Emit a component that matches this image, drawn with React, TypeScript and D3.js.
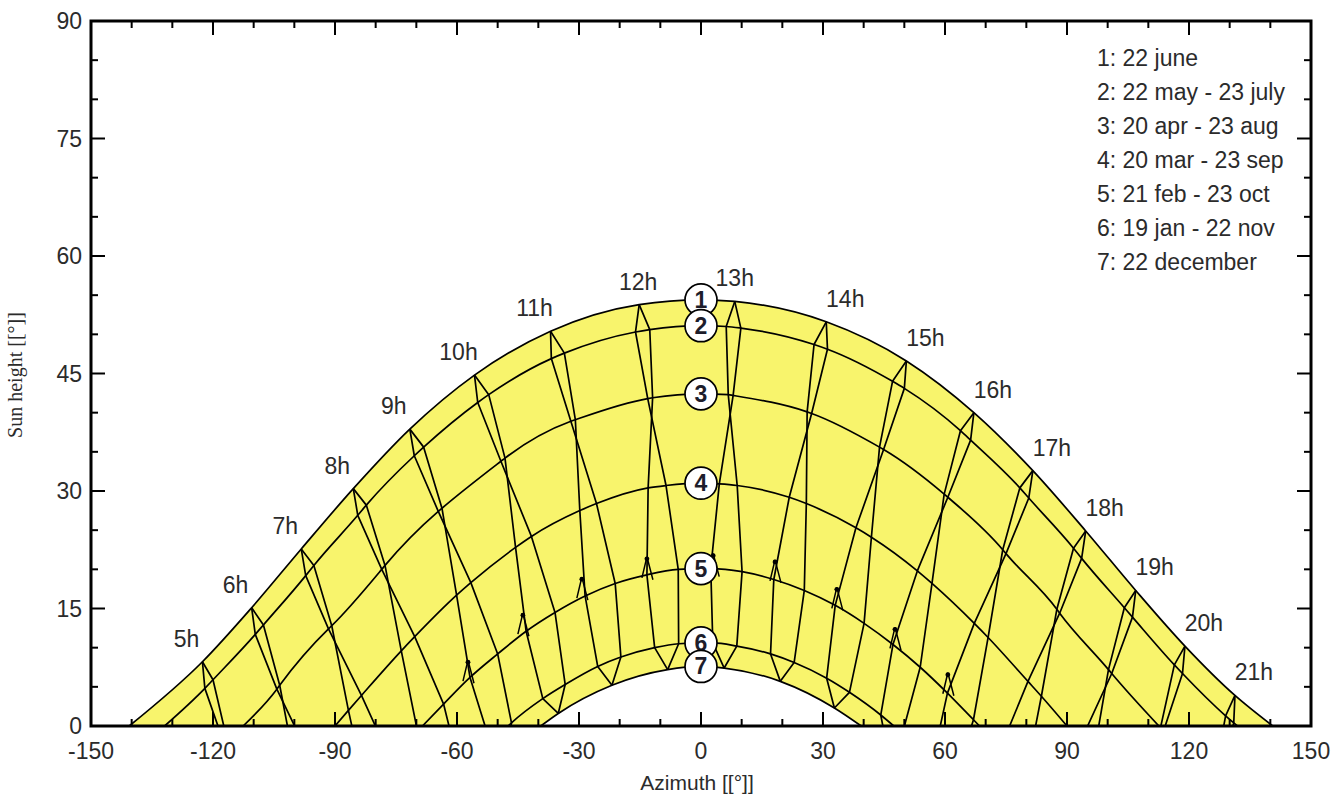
import React from 'react';
import * as d3 from 'd3';

// crossings of the hour lines with the date curves: [hour, azimuth °, sun height °]
// "a" = first half of the year (dec -> jun), "b" = second half (jun -> dec)
const hours = [5, 6, 7, 8, 9, 10, 11, 12, 13, 14, 15, 16, 17, 18, 19, 20, 21];

const day1 = [
  [5, -122.6, 8.2], [6, -110.5, 15.1], [7, -98.3, 22.6], [8, -85.5, 30.3], [9, -71.6, 37.9],
  [10, -55.7, 44.8], [11, -37.0, 50.4], [12, -15.2, 53.8], [13, 8.3, 54.2], [14, 30.8, 51.6],
  [15, 50.5, 46.6], [16, 67.1, 40.0], [17, 81.6, 32.6], [18, 94.6, 24.9], [19, 106.9, 17.3],
  [20, 119.0, 10.2], [21, 131.3, 3.9],
];
const day2a = [
  [5, -120.0, 5.9], [6, -107.6, 12.9], [7, -95.2, 20.5], [8, -82.3, 28.2], [9, -68.2, 35.6],
  [10, -52.2, 42.3], [11, -33.6, 47.6], [12, -12.6, 50.6], [13, 9.8, 50.8], [14, 31.1, 48.1],
  [15, 50.0, 43.1], [16, 66.3, 36.5], [17, 80.6, 29.1], [18, 93.6, 21.4], [19, 106.1, 13.9],
  [20, 118.4, 6.7], [21, 131.0, 0.4],
];
const day2b = [
  [5, -122.0, 4.8], [6, -109.6, 11.7], [7, -97.2, 19.2], [8, -84.4, 26.9], [9, -70.5, 34.5],
  [10, -54.9, 41.3], [11, -36.8, 46.9], [12, -16.1, 50.3], [13, 6.2, 51.0], [14, 27.8, 48.7],
  [15, 47.1, 44.0], [16, 63.8, 37.7], [17, 78.4, 30.4], [18, 91.6, 22.7], [19, 104.1, 15.1],
  [20, 116.4, 7.8], [21, 129.0, 1.3],
];
const day3a = [
  [5, -116.4, -2.1], [6, -103.6, 5.2], [7, -90.8, 12.8], [8, -77.7, 20.5], [9, -63.7, 27.8],
  [10, -48.2, 34.2], [11, -30.9, 39.1], [12, -11.9, 41.9], [13, 7.9, 42.2], [14, 27.2, 39.9],
  [15, 44.9, 35.3], [16, 60.7, 29.2], [17, 75.0, 22.0], [18, 88.2, 14.4], [19, 101.0, 6.7],
  [20, 113.7, -0.7], [21, 126.9, -7.3],
];
const day3b = [
  [5, -117.1, -2.5], [6, -104.3, 4.7], [7, -91.6, 12.4], [8, -78.5, 20.0], [9, -64.6, 27.4],
  [10, -49.2, 33.8], [11, -32.0, 38.9], [12, -13.1, 41.8], [13, 6.7, 42.3], [14, 26.1, 40.1],
  [15, 43.9, 35.6], [16, 59.8, 29.6], [17, 74.2, 22.5], [18, 87.5, 14.9], [19, 100.2, 7.2],
  [20, 113.0, -0.2], [21, 126.1, -6.9],
];
const day4a = [
  [6, -99.6, -5.7], [7, -86.7, 2.0], [8, -73.7, 9.6], [9, -60.1, 16.7], [10, -45.6, 22.8],
  [11, -29.8, 27.5], [12, -13.0, 30.4], [13, 4.5, 30.9], [14, 21.7, 29.2], [15, 38.1, 25.3],
  [16, 53.2, 19.8], [17, 67.2, 13.1], [18, 80.4, 5.7], [19, 93.3, -2.0],
];
const day4b = [
  [6, -96.4, -3.8], [7, -83.5, 3.9], [8, -70.4, 11.4], [9, -56.6, 18.3], [10, -41.7, 24.2],
  [11, -25.7, 28.4], [12, -8.6, 30.7], [13, 8.9, 30.7], [14, 25.9, 28.4], [15, 41.9, 24.1],
  [16, 56.8, 18.2], [17, 70.6, 11.3], [18, 83.7, 3.8], [19, 96.5, -3.9],
];
const day5a = [
  [7, -82.4, -8.2], [8, -69.7, -0.7], [9, -56.8, 6.2], [10, -43.0, 12.1], [11, -28.5, 16.6],
  [12, -13.3, 19.3], [13, 2.4, 20.1], [14, 17.9, 18.7], [15, 33.0, 15.4], [16, 47.2, 10.4],
  [17, 60.6, 4.2], [18, 73.6, -2.9],
];
const day5b = [
  [7, -76.2, -4.4], [8, -63.3, 2.8], [9, -50.0, 9.2], [10, -35.9, 14.5], [11, -21.1, 18.2],
  [12, -5.6, 20.0], [13, 10.1, 19.7], [14, 25.4, 17.3], [15, 40.1, 13.1], [16, 53.9, 7.5],
  [17, 67.0, 0.8], [18, 79.8, -6.6],
];
const day6a = [
  [8, -64.4, -8.6], [9, -51.9, -2.0], [10, -38.9, 3.5], [11, -25.4, 7.6], [12, -11.4, 10.0],
  [13, 2.9, 10.6], [14, 17.1, 9.2], [15, 30.9, 6.1], [16, 44.2, 1.4], [17, 56.9, -4.6],
];
const day6b = [
  [8, -59.2, -5.8], [9, -46.6, 0.4], [10, -33.4, 5.3], [11, -19.7, 8.8], [12, -5.5, 10.5],
  [13, 8.8, 10.2], [14, 22.9, 8.1], [15, 36.5, 4.3], [16, 49.5, -1.0], [17, 62.1, -7.3],
];
const day7 = [
  [9, -47.9, -3.6], [10, -35.1, 1.6], [11, -21.9, 5.2], [12, -8.2, 7.2], [13, 5.7, 7.4],
  [14, 19.5, 5.7], [15, 32.8, 2.3], [16, 45.7, -2.6],
];

// sunrise azimuth and noon height for curves 1..7
const riseAz = [140.6, 131.9, 112.6, 90.0, 68.5, 47.4, 39.4];
const noonAlt = [54.4, 51.1, 42.4, 31.0, 20.1, 10.6, 7.6];

const legendItems = [
  '1: 22 june',
  '2: 22 may - 23 july',
  '3: 20 apr - 23 aug',
  '4: 20 mar - 23 sep',
  '5: 21 feb - 23 oct',
  '6: 19 jan - 22 nov',
  '7: 22 december',
];

// small loops on the hour lines (tip position)
const loopTips = [
  [9, -57.3, 8.4], [10, -43.8, 14.4], [11, -29.3, 19.0], [12, -13.3, 21.6], [13, 3.0, 22.0],
  [14, 18.2, 21.2], [15, 33.4, 17.7], [16, 47.7, 12.6], [17, 60.7, 6.8],
];

const xTickLabels = [-150, -120, -90, -60, -30, 0, 30, 60, 90, 120, 150];
const yTickLabels = [0, 15, 30, 45, 60, 75, 90];

const FONT = '"Liberation Sans", Arial, sans-serif';
const TEXT = '#2b2b2b';

export default function App() {
  const x = d3.scaleLinear().domain([-150, 150]).range([91, 1311]);
  const y = d3.scaleLinear().domain([0, 90]).range([726, 21]);

  const days = [[day1], [day2a, day2b], [day3a, day3b], [day4a, day4b], [day5a, day5b], [day6a, day6b], [day7]];

  const dayCurves = days.map((group, i) => {
    const pts: number[][] = [];
    group.forEach((arr) => arr.forEach((p) => { if (p[2] > 0) pts.push([p[1], p[2]]); }));
    pts.push([-riseAz[i], 0], [0, noonAlt[i]], [riseAz[i], 0]);
    return pts.sort((a, b) => a[0] - b[0]);
  });

  const dayLine = d3.line<number[]>().x((d) => x(d[0])).y((d) => y(d[1])).curve(d3.curveMonotoneX);
  const dayArea = d3.area<number[]>().x((d) => x(d[0])).y0(y(0)).y1((d) => y(d[1])).curve(d3.curveMonotoneX);
  const hourLine = d3.line<number[]>().x((d) => x(d[0])).y((d) => y(d[1]));

  const branches: { h: number; pts: number[][] }[] = [];
  hours.forEach((h) => {
    [0, 1].forEach((b) => {
      const pts: number[][] = [];
      for (const group of days) {
        const p = group[Math.min(b, group.length - 1)].find((q) => q[0] === h);
        if (!p) break;
        pts.push([p[1], p[2]]);
        if (p[2] < 0) break;
      }
      branches.push({ h, pts });
    });
  });

  const xTicks = d3.range(-150, 151, 10);
  const yTicks = d3.range(0, 91, 5);

  return (
    <svg width={1344} height={798} style={{ position: 'absolute', left: 0, top: 0, background: '#fff' }}>
      <defs>
        <clipPath id="plot">
          <rect x={91} y={21} width={1220} height={705} />
        </clipPath>
      </defs>

      <g clipPath="url(#plot)">
        <path d={dayArea(dayCurves[0]) || ''} fill="#f8f46c" />
        <path d={dayArea(dayCurves[6]) || ''} fill="#fff" />
        {dayCurves.map((pts, i) => (
          <path key={i} d={dayLine(pts) || ''} fill="none" stroke="#000" strokeWidth={1.7} />
        ))}
        {branches.map((br, i) => (
          <path key={i} d={hourLine(br.pts) || ''} fill="none" stroke="#000" strokeWidth={1.7} strokeLinejoin="round" />
        ))}
        {loopTips.map((t, i) => {
          const tx = x(t[1]);
          const ty = y(t[2]);
          return (
            <g key={i}>
              <path d={`M${tx - 5},${ty + 21}L${tx},${ty}L${tx + 6},${ty + 23}`} fill="none" stroke="#000" strokeWidth={1.5} />
              <circle cx={tx} cy={ty + 2} r={2.4} fill="#000" />
            </g>
          );
        })}
      </g>

      {noonAlt.map((a, i) => (
        <g key={i}>
          <circle cx={x(0)} cy={y(a)} r={16} fill="#fff" stroke="#000" strokeWidth={1.7} />
          <text x={x(0)} y={y(a) + 8} textAnchor="middle" fontFamily={FONT} fontWeight="bold" fontSize={23} fill="#1d1d2b">
            {i + 1}
          </text>
        </g>
      ))}

      {day1.map((p) => {
        const h = p[0];
        const dx = h <= 11 ? -16 : h === 12 ? -1 : h === 13 ? 0 : 19;
        return (
          <text key={h} x={x(p[1]) + dx} y={y(p[2]) - 15} textAnchor="middle" fontFamily={FONT} fontSize={23} fill={TEXT}>
            {`${h}h`}
          </text>
        );
      })}

      {/* frame and ticks */}
      <rect x={91} y={21} width={1220} height={705} fill="none" stroke="#000" strokeWidth={3} />
      {xTicks.map((t) => {
        const len = t % 30 === 0 ? 14 : 7;
        return (
          <g key={t} stroke="#000" strokeWidth={2}>
            <line x1={x(t)} x2={x(t)} y1={726} y2={726 - len} />
            <line x1={x(t)} x2={x(t)} y1={21} y2={21 + len} />
          </g>
        );
      })}
      {yTicks.map((t) => {
        const len = t % 15 === 0 ? 14 : 7;
        return (
          <g key={t} stroke="#000" strokeWidth={2}>
            <line x1={91} x2={91 + len} y1={y(t)} y2={y(t)} />
            <line x1={1311} x2={1311 - len} y1={y(t)} y2={y(t)} />
          </g>
        );
      })}
      {xTickLabels.map((t) => (
        <text key={t} x={x(t)} y={759} textAnchor="middle" fontFamily={FONT} fontSize={23} fill={TEXT}>
          {t}
        </text>
      ))}
      {yTickLabels.map((t) => (
        <text key={t} x={82} y={y(t) + 8} textAnchor="end" fontFamily={FONT} fontSize={23} fill={TEXT}>
          {t}
        </text>
      ))}

      <text x={697} y={790} textAnchor="middle" fontFamily={FONT} fontSize={21} fill={TEXT}>
        Azimuth [[°]]
      </text>
      <text
        transform="translate(22,375) rotate(-90)"
        textAnchor="middle"
        fontFamily='"Liberation Serif", "Times New Roman", serif'
        fontSize={20}
        fill={TEXT}
      >
        Sun height [[°]]
      </text>

      {legendItems.map((s, i) => (
        <text key={i} x={1097} y={66 + i * 34} fontFamily={FONT} fontSize={23} fill={TEXT}>
          {s}
        </text>
      ))}
    </svg>
  );
}
